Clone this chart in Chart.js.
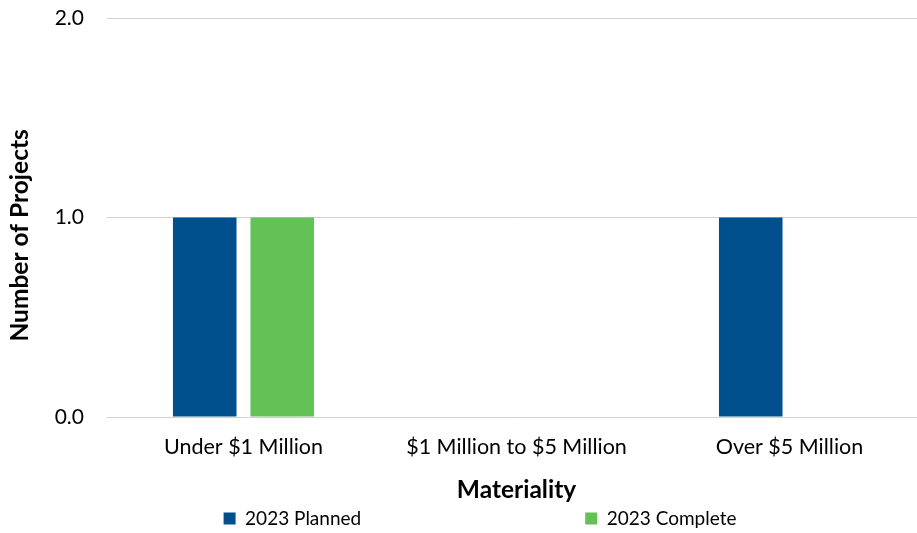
<!DOCTYPE html>
<html>
<head>
<meta charset="utf-8">
<script src="https://cdn.jsdelivr.net/npm/chart.js@4"></script>
<style>
  html, body { margin: 0; padding: 0; background: #fff; }
  #wrap { width: 917px; height: 533px; overflow: hidden; position: relative; }
  #wrap canvas { position: absolute; left: 0; top: 0; }
</style>
</head>
<body>
<div id="wrap">
  <canvas id="projectsChart" width="926" height="538"></canvas>
</div>
<script>
// Projects by materiality band
const categories = ['Under $1 Million', '$1 Million to $5 Million', 'Over $5 Million'];
const plannedCounts = [1, 0, 1];
const completeCounts = [1, 0, 0];
const yTicks = [0, 1, 2];

const FONT = 'Lato, Calibri, "Open Sans", sans-serif';

// pad legend text so the two entries sit far apart, like the office chart
const legendLabels = function (chart) {
    const items = Chart.defaults.plugins.legend.labels.generateLabels(chart);
    items[0].text += ' '.repeat(44);
    items[1].text += ' '.repeat(15);
    return items;
};

const ctx = document.getElementById('projectsChart').getContext('2d');
const projectsChart = new Chart(ctx, {
    type: 'bar',
    data: {
        labels: categories,
        datasets: [{
            label: '2023 Planned',
            data: plannedCounts,
            backgroundColor: '#00508E',
            borderWidth: 0
        },
        {
            label: '2023 Complete',
            data: completeCounts,
            backgroundColor: '#62C255',
            borderWidth: 0
        }]
    },
    options: {
        responsive: false,
        animation: false,
        categoryPercentage: 0.568,
        barPercentage: 0.82,
        layout: {
            padding: { top: 18, right: 0, bottom: 0, left: 0 }
        },
        plugins: {
            tooltip: { enabled: false },
            legend: {
                position: 'bottom',
                fullSize: false,
                labels: {
                    boxWidth: 12,
                    boxHeight: 12,
                    padding: 10,
                    color: '#000',
                    font: { family: FONT, size: 19 },
                    generateLabels: legendLabels
                }
            }
        },
        scales: {
            x: {
                grid: { display: false, drawTicks: false },
                border: { display: false },
                ticks: {
                    color: '#000',
                    padding: 17,
                    font: { family: FONT, size: 21.5 }
                },
                title: {
                    display: true,
                    text: 'Materiality',
                    color: '#000',
                    padding: { top: 0, bottom: -6 },
                    font: { family: FONT, size: 24.5, weight: 'bold' }
                },
                afterFit: scale => { scale.height = 82; }
            },
            y: {
                min: 0,
                max: 2,
                afterBuildTicks: scale => {
                    scale.ticks = yTicks.map(v => ({ value: v }));
                },
                grid: {
                    color: '#d0d0d0',
                    lineWidth: 1,
                    drawTicks: false
                },
                border: { display: false },
                ticks: {
                    color: '#000',
                    padding: 23,
                    font: { family: FONT, size: 21 },
                    callback: value => Number(value).toFixed(1)
                },
                title: {
                    display: true,
                    // trailing spaces nudge the rotated title a little lower
                    text: 'Number of Projects      ',
                    color: '#000',
                    padding: { top: 5, bottom: 0 },
                    font: { family: FONT, size: 24.5, weight: 'bold' }
                },
                afterFit: scale => {
                    scale.width = 107;
                    scale.paddingTop = 0;
                    scale.paddingBottom = 0;
                }
            }
        }
    }
});
</script>
</body>
</html>
